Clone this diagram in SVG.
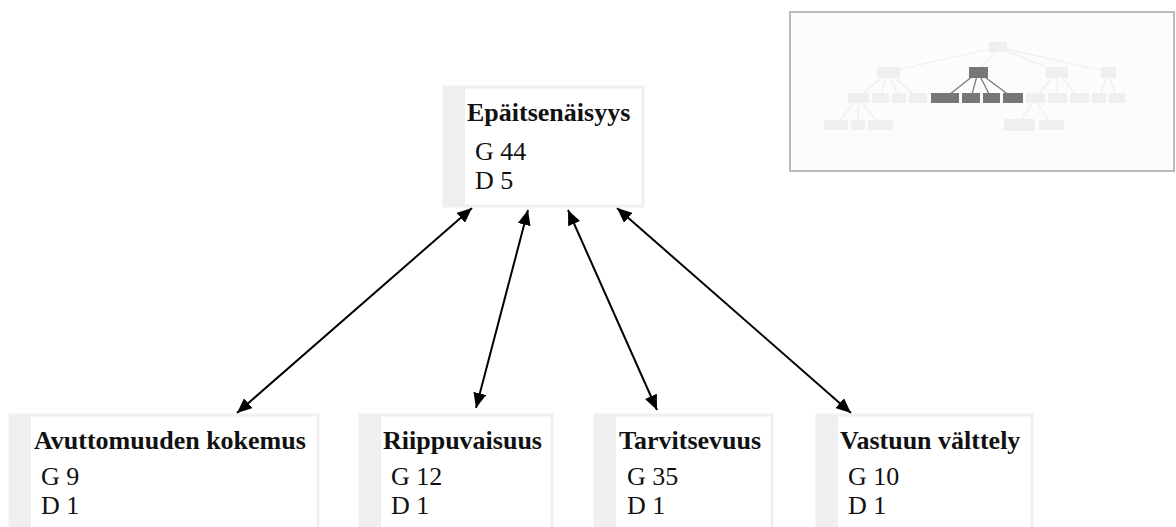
<svg xmlns="http://www.w3.org/2000/svg" width="1176" height="527" viewBox="0 0 1176 527">
<defs>
<style>
.box{fill:#fff;stroke:#efefef;stroke-width:3}
.strip{fill:#efefef}
.title{font-family:"Liberation Serif","Times New Roman",serif;font-weight:bold;font-size:26px;fill:#111}
.val{font-family:"Liberation Serif","Times New Roman",serif;font-size:26px;fill:#111}
.edge{stroke:#000;stroke-width:2;fill:none;marker-start:url(#ah);marker-end:url(#ah)}
.mn{fill:#efefef}
.md{fill:#777}
.ml{stroke:#eee;stroke-width:1.2}
.mld{stroke:#777;stroke-width:1.2}
</style>
<marker id="ah" viewBox="0 0 10 10" refX="10" refY="5" markerWidth="15" markerHeight="13" markerUnits="userSpaceOnUse" orient="auto-start-reverse" preserveAspectRatio="none">
<path d="M0,0 L10,5 L0,10 z" fill="#000"/>
</marker>
</defs>
<rect width="1176" height="527" fill="#fff"/>

<g id="connectors">
<line class="edge" x1="472" y1="208" x2="237" y2="413"/>
<line class="edge" x1="528" y1="210" x2="476" y2="408"/>
<line class="edge" x1="568" y1="210" x2="657" y2="410"/>
<line class="edge" x1="617" y1="208" x2="851" y2="413"/>
</g>

<g id="node-epaitsenaisyys">
<rect class="box" x="444" y="87" width="199" height="119"/>
<rect class="strip" x="444" y="87" width="21" height="119"/>
<text class="title" x="467" y="121">Epäitsenäisyys</text>
<text class="val" x="475" y="160">G 44</text>
<text class="val" x="475" y="189">D 5</text>
</g>

<g id="node-avuttomuuden">
<rect class="box" x="10" y="415" width="308" height="130"/>
<rect class="strip" x="10" y="415" width="21" height="130"/>
<text class="title" x="34" y="449">Avuttomuuden kokemus</text>
<text class="val" x="41" y="485">G 9</text>
<text class="val" x="41" y="514">D 1</text>
</g>

<g id="node-riippuvaisuus">
<rect class="box" x="360" y="415" width="192" height="130"/>
<rect class="strip" x="360" y="415" width="21" height="130"/>
<text class="title" x="383" y="449">Riippuvaisuus</text>
<text class="val" x="391" y="485">G 12</text>
<text class="val" x="391" y="514">D 1</text>
</g>

<g id="node-tarvitsevuus">
<rect class="box" x="595" y="415" width="177" height="130"/>
<rect class="strip" x="595" y="415" width="21" height="130"/>
<text class="title" x="619" y="449">Tarvitsevuus</text>
<text class="val" x="627" y="485">G 35</text>
<text class="val" x="627" y="514">D 1</text>
</g>

<g id="node-vastuun">
<rect class="box" x="817" y="415" width="215" height="130"/>
<rect class="strip" x="817" y="415" width="21" height="130"/>
<text class="title" x="840" y="449">Vastuun välttely</text>
<text class="val" x="848" y="485">G 10</text>
<text class="val" x="848" y="514">D 1</text>
</g>

<g id="minimap">
<rect x="790" y="12" width="384" height="159" fill="#fcfcfc" stroke="#bbb" stroke-width="2"/>
<g class="ml">
<line x1="998" y1="47" x2="888" y2="72"/>
<line x1="998" y1="47" x2="1057" y2="72"/>
<line x1="998" y1="47" x2="1108" y2="72"/>
<line x1="888" y1="72" x2="858" y2="98"/>
<line x1="888" y1="72" x2="880" y2="98"/>
<line x1="888" y1="72" x2="899" y2="98"/>
<line x1="888" y1="72" x2="918" y2="98"/>
<line x1="858" y1="98" x2="836" y2="125"/>
<line x1="858" y1="98" x2="858" y2="125"/>
<line x1="858" y1="98" x2="880" y2="125"/>
<line x1="1057" y1="72" x2="1035" y2="98"/>
<line x1="1057" y1="72" x2="1057" y2="98"/>
<line x1="1057" y1="72" x2="1079" y2="98"/>
<line x1="1108" y1="72" x2="1099" y2="98"/>
<line x1="1108" y1="72" x2="1117" y2="98"/>
<line x1="1035" y1="98" x2="1019" y2="125"/>
<line x1="1035" y1="98" x2="1051" y2="125"/>
<line x1="998" y1="47" x2="978" y2="72"/>
</g>
<g class="mld">
<line x1="978" y1="72" x2="945" y2="98"/>
<line x1="978" y1="72" x2="971" y2="98"/>
<line x1="978" y1="72" x2="991" y2="98"/>
<line x1="978" y1="72" x2="1013" y2="98"/>
</g>
<rect class="mn" x="989" y="42" width="18" height="10"/>
<rect class="mn" x="877" y="67" width="23" height="11"/>
<rect class="md" x="969" y="67" width="19" height="11"/>
<rect class="mn" x="1046" y="67" width="22" height="11"/>
<rect class="mn" x="1101" y="67" width="15" height="11"/>
<rect class="mn" x="848" y="93" width="21" height="10"/>
<rect class="mn" x="872" y="93" width="17" height="10"/>
<rect class="mn" x="892" y="93" width="14" height="10"/>
<rect class="mn" x="909" y="93" width="18" height="10"/>
<rect class="md" x="931" y="93" width="28" height="10"/>
<rect class="md" x="962" y="93" width="18" height="10"/>
<rect class="md" x="983" y="93" width="17" height="10"/>
<rect class="md" x="1003" y="93" width="20" height="10"/>
<rect class="mn" x="1026" y="93" width="19" height="10"/>
<rect class="mn" x="1048" y="93" width="19" height="10"/>
<rect class="mn" x="1070" y="93" width="19" height="10"/>
<rect class="mn" x="1092" y="93" width="14" height="10"/>
<rect class="mn" x="1109" y="93" width="16" height="10"/>
<rect class="mn" x="824" y="120" width="24" height="10"/>
<rect class="mn" x="851" y="120" width="14" height="10"/>
<rect class="mn" x="868" y="120" width="25" height="10"/>
<rect class="mn" x="1004" y="119" width="31" height="12"/>
<rect class="mn" x="1039" y="120" width="25" height="10"/>
</g>
</svg>
